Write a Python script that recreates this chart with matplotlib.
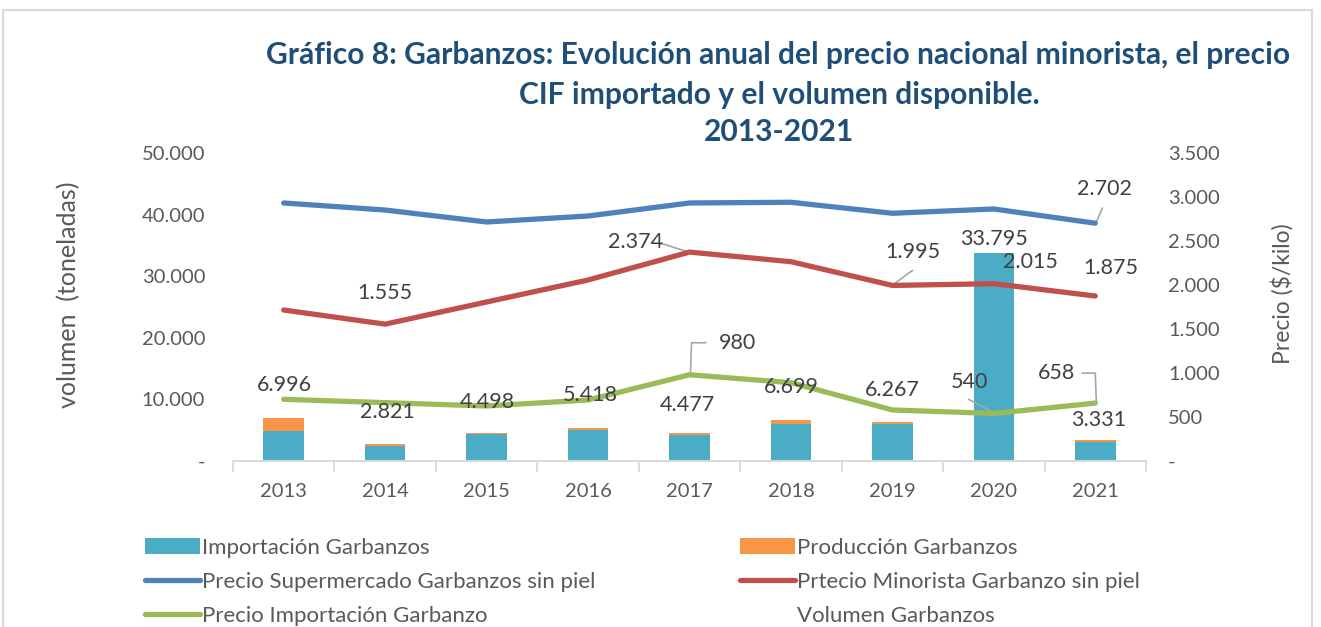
import matplotlib
matplotlib.use("Agg")
import matplotlib.pyplot as plt
from matplotlib.patches import Rectangle, Patch
from matplotlib.lines import Line2D
from matplotlib.ticker import FuncFormatter, FixedLocator

plt.rcParams['font.family'] = ['Lato', 'DejaVu Sans']

years = ['2013', '2014', '2015', '2016', '2017', '2018', '2019', '2020', '2021']
importacion = [4900, 2400, 4350, 4990, 4277, 6049, 5947, 33695, 3061]
produccion = [2096, 421, 148, 428, 200, 650, 320, 100, 270]
volumen = [6996, 2821, 4498, 5418, 4477, 6699, 6267, 33795, 3331]
precio_super = [2932, 2852, 2716, 2784, 2932, 2940, 2815, 2864, 2702]
precio_minorista = [1716, 1555, 1807, 2057, 2374, 2265, 1995, 2015, 1875]
precio_importacion = [701, 663, 625, 693, 980, 890, 580, 540, 658]

C_IMP = '#4BACC6'
C_PROD = '#F79646'
C_BLUE = '#4F81BD'
C_RED = '#C0504D'
C_GREEN = '#9BBB59'
C_TXT = '#404040'
C_TICK = '#595959'
C_LEAD = '#A6A6A6'

W, H = 1321, 627
fig = plt.figure(figsize=(W / 100, H / 100), dpi=100)

def fx(px):
    return px / W

def fy(py):
    return 1 - py / H

ax = fig.add_axes([fx(233), fy(461), fx(1146) - fx(233), fy(153) - fy(461)])
ax2 = ax.twinx()
ax2.set_zorder(ax.get_zorder() + 1)
ax2.patch.set_visible(False)

x = list(range(len(years)))
ax.bar(x, importacion, width=0.4, color=C_IMP, zorder=2)
ax.bar(x, produccion, width=0.4, bottom=importacion, color=C_PROD, zorder=2)

lw = 3.8
ax2.plot(x, precio_super, color=C_BLUE, lw=lw, solid_capstyle='round', solid_joinstyle='round')
ax2.plot(x, precio_minorista, color=C_RED, lw=lw, solid_capstyle='round', solid_joinstyle='round')
ax2.plot(x, precio_importacion, color=C_GREEN, lw=lw, solid_capstyle='round', solid_joinstyle='round')

ax.set_xlim(-0.5, len(years) - 0.5)
ax.set_ylim(0, 50000)
ax2.set_ylim(0, 3500)
ax.set_yticks(range(0, 50001, 10000))
ax2.set_yticks(range(0, 3501, 500))

def thous(v, pos=None):
    v = int(round(v))
    if v == 0:
        return '-'
    return f'{v:,}'.replace(',', '.')

ax.yaxis.set_major_formatter(FuncFormatter(thous))
ax2.yaxis.set_major_formatter(FuncFormatter(thous))

ax.set_xticks(x)
ax.set_xticklabels(years)
ax.xaxis.set_minor_locator(FixedLocator([i - 0.5 for i in range(len(years) + 1)]))
ax.tick_params(axis='x', which='major', length=0, pad=16, labelsize=14.5, labelcolor=C_TICK)
ax.tick_params(axis='x', which='minor', length=8, width=1.3, color='#D9D9D9')
ax.tick_params(axis='y', length=0, pad=20, labelsize=14.5, labelcolor=C_TICK)
ax2.tick_params(axis='y', length=0, pad=16, labelsize=14.5, labelcolor=C_TICK)

for a in (ax, ax2):
    for s in ('top', 'left', 'right'):
        a.spines[s].set_visible(False)
    a.spines['bottom'].set_color('#D9D9D9')
    a.spines['bottom'].set_linewidth(1.3)

ax.set_ylabel('volumen  (toneladas)', fontsize=18, color=C_TICK)
ax.yaxis.set_label_coords(-0.1676, 0.539)
ax2.set_ylabel('Precio ($/kilo)', fontsize=16.5, color=C_TICK)
ax2.yaxis.set_label_coords(1.137, 0.542)

lab_kw = dict(fontsize=15.5, color=C_TXT, ha='center', va='center', textcoords='offset pixels', zorder=6)

vol_offsets = [(1, 33), (2, 32), (1, 31), (2, 33), (-2, 28), (0, 33), (0, 32), (0, 14), (3, 20)]
for i, (dx, dy) in enumerate(vol_offsets):
    ax2.annotate(thous(volumen[i]), xy=(i, volumen[i]), xycoords=ax.transData, xytext=(dx, dy), **lab_kw)

price_labels = [
    (precio_super, 8, 9, 34),
    (precio_minorista, 1, 0, 31),
    (precio_minorista, 4, -54, 10),
    (precio_minorista, 6, 20, 33),
    (precio_minorista, 7, 37, 22),
    (precio_minorista, 8, 16, 28),
    (precio_importacion, 4, 48, 32),
    (precio_importacion, 7, -24, 31),
    (precio_importacion, 8, -39, 30),
]
for series, i, dx, dy in price_labels:
    ax2.annotate(thous(series[i]), xy=(i, series[i]), xytext=(dx, dy), **lab_kw)

def leader(series, i, pts):
    trans = ax2.transData
    px0, py0 = trans.transform((i, series[i]))
    inv = ax2.transData.inverted()
    xs, ys = [], []
    for ddx, ddy in pts:
        dxy = inv.transform((px0 + ddx, py0 + ddy))
        xs.append(dxy[0]); ys.append(dxy[1])
    ax2.plot(xs, ys, color=C_LEAD, lw=1.2, zorder=1)

fig.canvas.draw()
leader(precio_super, 8, [(1, 1), (7, 15)])
leader(precio_minorista, 4, [(-4, 1), (-26, 8), (-30, 8)])
leader(precio_minorista, 6, [(1, 1), (20, 15)])
leader(precio_importacion, 4, [(1, 2), (2, 32), (16, 32)])
leader(precio_importacion, 7, [(0, 1), (-25, 14)])
leader(precio_importacion, 8, [(1, 2), (0, 30), (-13, 30)])

tkw = dict(ha='center', va='center', fontsize=21.6, fontweight='bold', color='#1F4E79')
fig.text(fx(778), fy(55), 'Gráfico 8: Garbanzos: Evolución anual del precio nacional minorista, el precio', **tkw)
fig.text(fx(779), fy(95), 'CIF importado y el volumen disponible.', **tkw)
fig.text(fx(779), fy(132), '2013-2021', **tkw)

h1 = [Patch(facecolor=C_IMP, edgecolor='none'),
      Line2D([], [], color=C_BLUE, lw=lw, solid_capstyle='round'),
      Line2D([], [], color=C_GREEN, lw=lw, solid_capstyle='round')]
l1 = ['Importación Garbanzos', 'Precio Supermercado Garbanzos sin piel', 'Precio Importación Garbanzo']
h2 = [Patch(facecolor=C_PROD, edgecolor='none'),
      Line2D([], [], color=C_RED, lw=lw, solid_capstyle='round'),
      Line2D([], [], color='none', lw=0)]
l2 = ['Producción Garbanzos', 'Prtecio Minorista Garbanzo sin piel', 'Volumen Garbanzos']
leg_kw = dict(frameon=False, fontsize=16, handlelength=2.47, handleheight=0.72, handletextpad=0.1,
              labelspacing=0.63, borderaxespad=0, borderpad=0, labelcolor=C_TICK, loc='upper left')
lg1 = fig.legend(h1, l1, bbox_to_anchor=(fx(145), fy(538)), **leg_kw)
lg2 = fig.legend(h2, l2, bbox_to_anchor=(fx(740), fy(538)), **leg_kw)

fig.patches.append(Rectangle((fx(3), -0.1), fx(1312) - fx(3), fy(10) + 0.1, transform=fig.transFigure,
                             fill=False, edgecolor='#D9D9D9', lw=1.5))

fig.savefig('out.png', dpi=100)
